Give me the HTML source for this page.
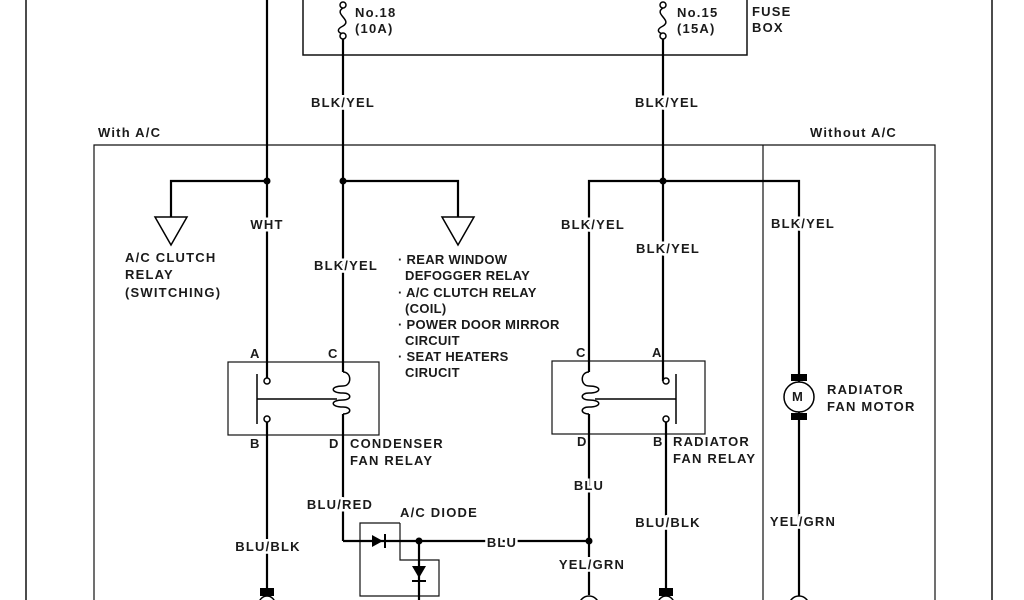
<!DOCTYPE html>
<html><head><meta charset="utf-8"><style>
html,body{margin:0;padding:0;background:#fff;}
svg{display:block}
text{font-family:"Liberation Sans",sans-serif;font-weight:bold;font-size:13px;letter-spacing:1.2px;fill:#1a1a1a;}
.w{paint-order:stroke;stroke:#fff;stroke-width:5px;}
g.t text{letter-spacing:0.3px;}
</style></head><body>
<svg width="1024" height="600" viewBox="0 0 1024 600" xmlns="http://www.w3.org/2000/svg">
<g stroke="#111" fill="none" stroke-width="1.5">
<line x1="26" y1="0" x2="26" y2="600"/>
<line x1="992" y1="0" x2="992" y2="600"/>
<polyline points="303,0 303,55 747,55 747,0"/>
<polyline points="94,600 94,145 935,145 935,600" stroke-width="1.2"/>
<line x1="763" y1="145" x2="763" y2="600" stroke-width="1.2"/>
<rect x="228" y="362" width="151" height="73" stroke-width="1.2"/>
<rect x="552" y="361" width="153" height="73" stroke-width="1.2"/>
<polyline points="400,523 360,523 360,596 439,596 439,560 400,560 400,523" stroke-width="1.2"/>
</g>
<g stroke="#000" fill="none" stroke-width="2.2">
<line x1="267" y1="0" x2="267" y2="381"/>
<line x1="267" y1="419" x2="267" y2="590"/>
<line x1="343" y1="37" x2="343" y2="372"/>
<line x1="343" y1="414" x2="343" y2="541"/>
<line x1="343" y1="541" x2="589" y2="541"/>
<line x1="663" y1="37" x2="663" y2="381"/>
<line x1="666" y1="419" x2="666" y2="590"/>
<polyline points="267,181 171,181 171,217"/>
<polyline points="343,181 458,181 458,217"/>
<polyline points="589,372 589,181 799,181 799,385"/>
<line x1="589" y1="414" x2="589" y2="595"/>
<line x1="799" y1="410" x2="799" y2="600"/>
<line x1="419" y1="541" x2="419" y2="600"/>
<path d="M343,8 C333,14 353,20 343,26 C335,30 339,33 343,34" stroke-width="1.5"/>
<path d="M663,8 C653,14 673,20 663,26 C655,30 659,33 663,34" stroke-width="1.5"/>
</g>
<g fill="#fff" stroke="#000" stroke-width="1.5">
<circle cx="343" cy="36" r="3"/><circle cx="663" cy="36" r="3"/>
<circle cx="343" cy="5" r="3"/><circle cx="663" cy="5" r="3"/>
<polygon points="155,217 187,217 171,245"/>
<polygon points="442,217 474,217 458,245"/>
<circle cx="267" cy="381" r="3"/><circle cx="267" cy="419" r="3"/>
<circle cx="666" cy="381" r="3"/><circle cx="666" cy="419" r="3"/>
<circle cx="799" cy="397" r="15"/>
<circle cx="267" cy="604" r="8"/><circle cx="589" cy="606" r="10"/><circle cx="666" cy="604" r="8"/><circle cx="799" cy="606" r="10"/>
</g>
<g stroke="#000" fill="none" stroke-width="1.5">
<line x1="257" y1="374" x2="257" y2="424"/>
<line x1="257" y1="399" x2="337" y2="399"/>
<line x1="676" y1="374" x2="676" y2="424"/>
<line x1="595" y1="399" x2="676" y2="399"/>
<path d="M343,372 C352,372 352,386 343,386 C330,386 330,393 343,393 C352,393 352,400 343,400 C330,400 330,407 343,407 C352,407 352,414 343,414"/>
<path d="M589,372 C580,372 580,386 589,386 C602,386 602,393 589,393 C580,393 580,400 589,400 C602,400 602,407 589,407 C580,407 580,414 589,414"/>
</g>
<g fill="#000">
<circle cx="267" cy="181" r="3.5"/><circle cx="343" cy="181" r="3.5"/><circle cx="663" cy="181" r="3.5"/>
<circle cx="419" cy="541" r="3.5"/><circle cx="589" cy="541" r="3.5"/>
<rect x="791" y="374" width="16" height="7"/><rect x="791" y="413" width="16" height="7"/>
<rect x="260" y="588" width="14" height="8"/><rect x="659" y="588" width="14" height="8"/>
<polygon points="372,535 372,547 383,541"/><rect x="384" y="534" width="2" height="14"/>
<polygon points="412,566 426,566 419,578"/><rect x="412" y="580" width="14" height="2"/>
</g>
<text x="355" y="17">No.18</text><text x="355" y="33">(10A)</text>
<text x="677" y="17">No.15</text><text x="677" y="33">(15A)</text>
<text x="752" y="16">FUSE</text><text x="752" y="32">BOX</text>
<g text-anchor="middle">
<text class="w" x="343" y="107">BLK/YEL</text>
<text class="w" x="667" y="107">BLK/YEL</text>
<text class="w" x="267" y="229">WHT</text>
<text class="w" x="346" y="270">BLK/YEL</text>
<text class="w" x="593" y="229">BLK/YEL</text>
<text class="w" x="668" y="253">BLK/YEL</text>
<text class="w" x="803" y="228">BLK/YEL</text>
<text class="w" x="589" y="490">BLU</text>
<text class="w" x="668" y="527">BLU/BLK</text>
<text class="w" x="803" y="526">YEL/GRN</text>
<text class="w" x="340" y="509">BLU/RED</text>
<text class="w" x="502" y="547">BLU</text>
<text class="w" x="268" y="551">BLU/BLK</text>
<text class="w" x="592" y="569">YEL/GRN</text>
</g>
<text x="98" y="137">With A/C</text>
<text x="810" y="137">Without A/C</text>
<text x="125" y="262">A/C CLUTCH</text><text x="125" y="279">RELAY</text><text x="125" y="297">(SWITCHING)</text>
<g class="t">
<text x="398" y="264">· REAR WINDOW</text><text x="405" y="280">DEFOGGER RELAY</text>
<text x="398" y="297">· A/C CLUTCH RELAY</text><text x="405" y="313">(COIL)</text>
<text x="398" y="329">· POWER DOOR MIRROR</text><text x="405" y="345">CIRCUIT</text>
<text x="398" y="361">· SEAT HEATERS</text><text x="405" y="377">CIRUCIT</text>
</g>
<text x="250" y="358">A</text><text x="328" y="358">C</text><text x="250" y="448">B</text><text x="329" y="448">D</text>
<text x="350" y="448">CONDENSER</text><text x="350" y="465">FAN RELAY</text>
<text x="576" y="357">C</text><text x="652" y="357">A</text><text x="577" y="446">D</text><text x="653" y="446">B</text>
<text x="673" y="446">RADIATOR</text><text x="673" y="463">FAN RELAY</text>
<text x="827" y="394">RADIATOR</text><text x="827" y="411">FAN MOTOR</text>
<text x="792" y="401" font-size="11" style="letter-spacing:0">M</text>
<text x="400" y="517">A/C DIODE</text>
</svg>
</body></html>
